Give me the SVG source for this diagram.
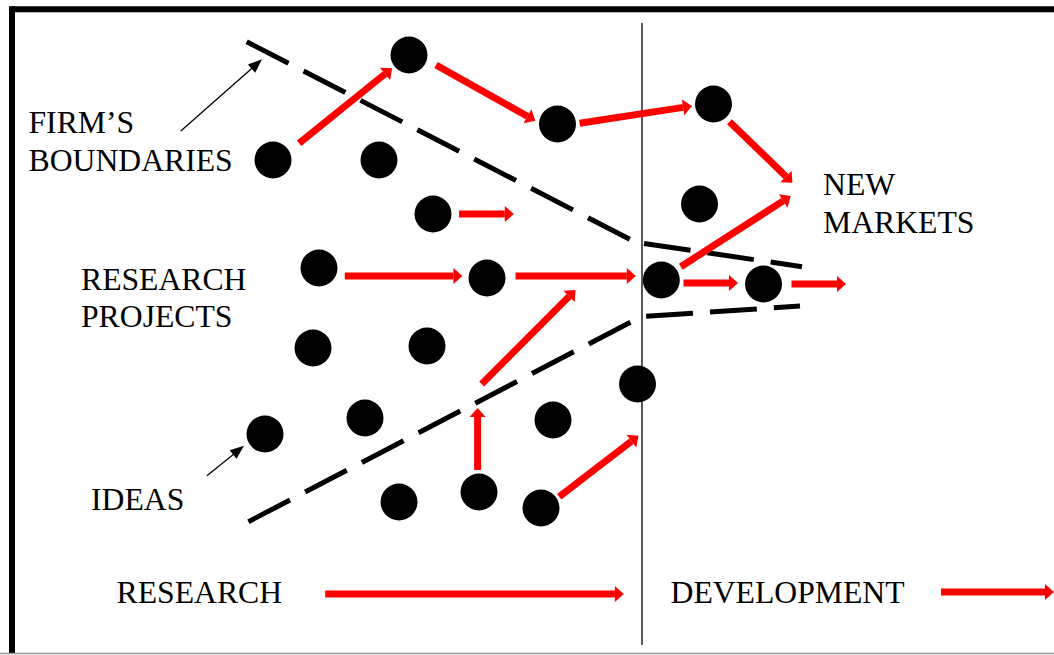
<svg xmlns="http://www.w3.org/2000/svg" width="1054" height="655" viewBox="0 0 1054 655">
<defs>
<marker id="rh" markerUnits="userSpaceOnUse" markerWidth="10" markerHeight="16" refX="0" refY="8" orient="auto" overflow="visible">
<path d="M0,0 L9,8 L0,16 z" fill="#ff0000"/>
</marker>
<marker id="bh" markerUnits="userSpaceOnUse" markerWidth="14" markerHeight="11" refX="1" refY="5.5" orient="auto" overflow="visible">
<path d="M0,0 L14,5.5 L0,11 z" fill="#000"/>
</marker>
</defs>
<style>
.t{font-family:"Liberation Serif","Times New Roman",serif;font-size:31.7px;fill:#000}
.dot{fill:#000}
.ra{stroke:#ff0000;stroke-width:7;fill:none;marker-end:url(#rh)}
.ba{stroke:#000;stroke-width:1.3;fill:none;marker-end:url(#bh)}
.bd{stroke:#000;stroke-width:5;fill:none;stroke-dasharray:47 17}
</style>
<rect x="0" y="0" width="1054" height="655" fill="#fff"/>
<g id="frame">
<line x1="12" y1="9.3" x2="1054" y2="9.3" stroke="#000" stroke-width="6"/>
<line x1="12" y1="6.3" x2="12" y2="653" stroke="#000" stroke-width="6"/>
<line x1="0" y1="653.5" x2="1054" y2="653.5" stroke="#999" stroke-width="1.5"/>
<line x1="642" y1="23" x2="642" y2="645" stroke="#000" stroke-width="1.3"/>
</g>
<g id="boundaries">
<polyline class="bd" points="246.7,41.7 641,245"/>
<polyline class="bd" points="644,243.5 802,266.7"/>
<polyline class="bd" points="248.4,521.7 641,316.7 800,306"/>
</g>
<g id="nodes">
<circle id="n1" class="dot" cx="409" cy="55" r="18.5"/>
<circle id="n2" class="dot" cx="273" cy="160" r="18.5"/>
<circle id="n3" class="dot" cx="379" cy="160" r="18.5"/>
<circle id="n4" class="dot" cx="433" cy="214" r="18.5"/>
<circle id="n5" class="dot" cx="319" cy="268" r="18.5"/>
<circle id="n6" class="dot" cx="487" cy="278" r="18.5"/>
<circle id="n7" class="dot" cx="557.5" cy="124" r="18.5"/>
<circle id="n8" class="dot" cx="713.5" cy="104" r="18.5"/>
<circle id="n9" class="dot" cx="699.5" cy="204" r="18.5"/>
<circle id="n10" class="dot" cx="661.3" cy="280" r="18.5"/>
<circle id="n11" class="dot" cx="763.5" cy="284" r="18.5"/>
<circle id="n12" class="dot" cx="313" cy="348" r="18.5"/>
<circle id="n13" class="dot" cx="427" cy="346" r="18.5"/>
<circle id="n14" class="dot" cx="365" cy="418" r="18.5"/>
<circle id="n15" class="dot" cx="265" cy="434" r="18.5"/>
<circle id="n16" class="dot" cx="399" cy="502" r="18.5"/>
<circle id="n17" class="dot" cx="479" cy="492" r="18.5"/>
<circle id="n18" class="dot" cx="541" cy="508" r="18.5"/>
<circle id="n19" class="dot" cx="637.5" cy="384" r="18.5"/>
<circle id="n20" class="dot" cx="553" cy="420" r="18.5"/>
</g>
<g id="connectors">
<line class="ra" x1="299.1" y1="143.3" x2="385.1" y2="73.9"/>
<line class="ra" x1="436" y1="65" x2="527.5" y2="116.3"/>
<line class="ra" x1="579.6" y1="123.3" x2="683.1" y2="107.4"/>
<line class="ra" x1="729.5" y1="121.7" x2="786" y2="176.4"/>
<line class="ra" x1="680.8" y1="266.7" x2="783.2" y2="200.9"/>
<line class="ra" x1="459" y1="214" x2="504.8" y2="214"/>
<line class="ra" x1="344.8" y1="276" x2="453.4" y2="276"/>
<line class="ra" x1="515.5" y1="276" x2="626.8" y2="276"/>
<line class="ra" x1="683.5" y1="283" x2="729" y2="283"/>
<line class="ra" x1="791.5" y1="284" x2="837" y2="284"/>
<line class="ra" x1="481.7" y1="384" x2="569.1" y2="296.4"/>
<line class="ra" x1="477.6" y1="470" x2="477.6" y2="417"/>
<line class="ra" x1="559.2" y1="496.7" x2="631.4" y2="441.2"/>
<line class="ra" x1="325.2" y1="594" x2="614.9" y2="594"/>
<line class="ra" x1="941" y1="592" x2="1045" y2="592"/>
<line class="ba" x1="180.8" y1="131" x2="252.3" y2="67.9"/>
<line class="ba" x1="206.9" y1="475.7" x2="233.9" y2="453.9"/>
</g>
<g id="labels">
<text class="t" x="28.5" y="133">FIRM’S</text>
<text class="t" x="28.5" y="171">BOUNDARIES</text>
<text class="t" x="81" y="290">RESEARCH</text>
<text class="t" x="81" y="327">PROJECTS</text>
<text class="t" x="91" y="510">IDEAS</text>
<text class="t" x="116.6" y="603">RESEARCH</text>
<text class="t" x="670.5" y="603">DEVELOPMENT</text>
<text class="t" x="823" y="195">NEW</text>
<text class="t" x="823" y="233">MARKETS</text>
</g>
</svg>
